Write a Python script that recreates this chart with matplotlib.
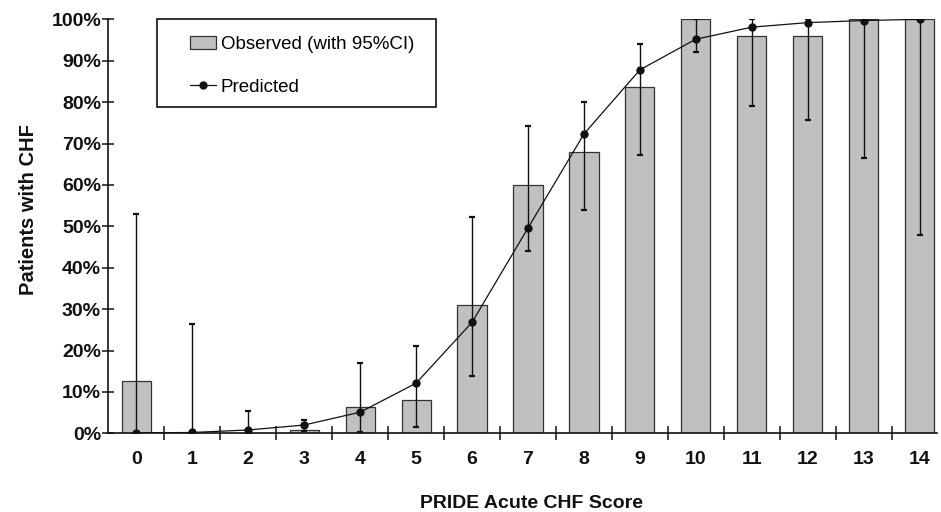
import matplotlib
matplotlib.use("Agg")
import matplotlib.pyplot as plt
from matplotlib.patches import Rectangle
from matplotlib.ticker import PercentFormatter, MultipleLocator
import numpy as np

plt.rcParams["font.family"] = ["Liberation Sans", "DejaVu Sans"]

# PRIDE acute CHF score vs share of patients with CHF
scores = list(range(15))
observed = [12.6, 0.0, 0.0, 0.8, 6.3, 8.0, 31.0, 60.0, 68.0, 83.7, 100.0, 96.0, 96.0, 100.0, 100.0]
ci_low = [0.0, 0.0, 0.0, 0.5, 0.2, 1.6, 13.9, 44.1, 53.9, 67.3, 92.1, 79.1, 75.7, 66.4, 47.8]
ci_high = [52.9, 26.3, 5.5, 3.2, 16.9, 21.2, 52.2, 74.2, 80.0, 94.0, 100.0, 100.0, 100.0, 100.0, 100.0]
predicted = [0.1, 0.2, 0.8, 2.0, 5.1, 12.1, 26.8, 49.6, 72.3, 87.8, 95.2, 98.1, 99.2, 99.7, 100.0]

BAR_FILL = "#c0c0c0"
INK = "#111111"

fig = plt.figure(figsize=(9.41, 5.12), dpi=100)
ax = fig.add_axes([108.3 / 941, 1 - 433.3 / 512, 828.2 / 941, 414 / 512])

x = np.array(scores)
obs = np.array(observed)
yerr = [obs - np.array(ci_low), np.array(ci_high) - obs]

bars = ax.bar(x, obs, width=0.52, color=BAR_FILL, edgecolor="#333333", linewidth=0.9,
              label="Observed (with 95%CI)", zorder=2)
ax.errorbar(x, obs, yerr=yerr, fmt="none", ecolor=INK, elinewidth=1.0,
            capsize=2.5, capthick=1.6, zorder=3)
line, = ax.plot(x, predicted, color=INK, linewidth=0.9, marker="o", markersize=5,
                label="Predicted", zorder=4)

ax.set_xlim(-0.5, 14.3)
ax.set_ylim(0, 100)
ax.yaxis.set_major_locator(MultipleLocator(10))
ax.yaxis.set_major_formatter(PercentFormatter(decimals=0))
ax.set_xticks(scores)
ax.set_xticks(np.arange(0.5, 14, 1.0), minor=True)

for side in ("top", "right"):
    ax.spines[side].set_visible(False)
for side in ("left", "bottom"):
    ax.spines[side].set_linewidth(1.2)
    ax.spines[side].set_color(INK)

ax.tick_params(axis="y", direction="inout", length=8.5, width=1.1, pad=1,
               labelsize=14, colors=INK)
ax.tick_params(axis="x", which="major", length=0, pad=13, labelsize=14, colors=INK)
ax.tick_params(axis="x", which="minor", direction="inout", length=9.5, width=1.1, colors=INK)
for lab in ax.get_xticklabels() + ax.get_yticklabels():
    lab.set_fontweight("bold")

fig.text(28.5 / 941, 1 - 210 / 512, "Patients with CHF", rotation=90,
         ha="center", va="center", fontsize=14.5, fontweight="bold", color=INK)
fig.text(532 / 941, 4 / 512, "PRIDE Acute CHF Score", ha="center", va="baseline",
         fontsize=14, fontweight="bold", color=INK)

# legend box drawn separately so the padding matches the original
ax.add_patch(Rectangle((0.0584, 0.789), 0.337, 0.211, transform=ax.transAxes,
                       facecolor="white", edgecolor=INK, linewidth=1.2, zorder=5,
                       clip_on=False))
leg = ax.legend([bars, line], ["Observed (with 95%CI)", "Predicted"],
                loc="upper left", bbox_to_anchor=(0.0986, 0.960), frameon=False,
                fontsize=13.5, borderpad=0, borderaxespad=0, handlelength=1.4,
                handleheight=0.7, handletextpad=0.25, labelspacing=1.36)
leg.set_zorder(6)

fig.savefig("out.png", dpi=100, facecolor="white")
